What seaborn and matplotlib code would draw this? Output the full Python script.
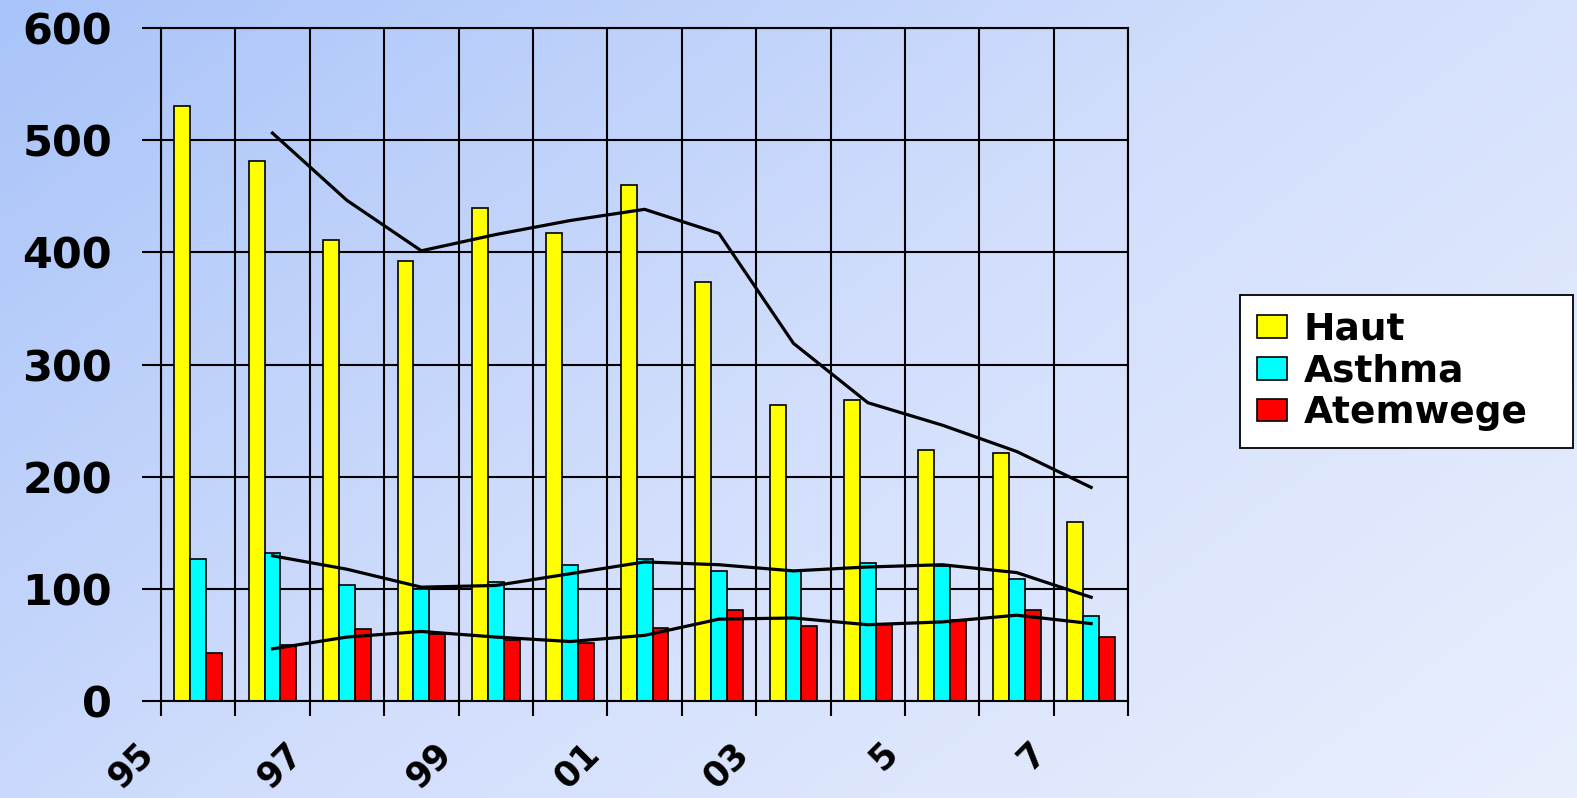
import numpy as np
import pandas as pd
import seaborn as sns
import matplotlib.pyplot as plt
import matplotlib.transforms as mtransforms
from matplotlib.colors import LinearSegmentedColormap

jahre = ['95', '96', '97', '98', '99', '00', '01', '02', '03', '04', '05', '06', '07']
tick_labels = ['95', '', '97', '', '99', '', '01', '', '03', '', '5', '', '7', '']
haut = [531, 482, 411, 392, 440, 417, 460, 374, 264, 268, 224, 221, 160]
asthma = [127, 132, 103, 100, 106, 121, 127, 116, 116, 123, 120, 109, 76]
atemwege = [43, 50, 64, 60, 54, 52, 65, 81, 67, 69, 72, 81, 57]
kategorien = ['Haut', 'Asthma', 'Atemwege']
farben = ['#ffff00', '#00ffff', '#ff0000']

df = pd.DataFrame({
    'Jahr': jahre * 3,
    'Wert': haut + asthma + atemwege,
    'Kategorie': np.repeat(kategorien, len(jahre)),
})

fig = plt.figure(figsize=(15.77, 7.98), dpi=100)

# background gradient
bg = fig.add_axes([0, 0, 1, 1])
gx, gy = np.meshgrid(np.linspace(0, 1, 300), np.linspace(0, 1, 150))
grad = (gx * 0.6 + gy * 0.4)
cmap = LinearSegmentedColormap.from_list('bg', ['#a9c4f9', '#d2defc', '#e9effd'])
bg.imshow(grad, cmap=cmap, aspect='auto', extent=[0, 1, 0, 1], origin='upper')
bg.axis('off')
bg.set_zorder(0)

ax = fig.add_axes([0.102, 0.1216, 0.6135, 0.843])
ax.set_zorder(1)
ax.patch.set_alpha(0)

sns.barplot(data=df, x='Jahr', y='Wert', hue='Kategorie', order=jahre,
            hue_order=kategorien, palette=farben, width=0.64, saturation=1,
            edgecolor='black', linewidth=1.2, ax=ax)

# 2-period moving average trendlines
for vals in [haut, asthma, atemwege]:
    ma = pd.Series(vals).rolling(2).mean()
    ax.plot(np.arange(len(jahre)), ma, color='black', lw=2.3, zorder=5)

ax.set_xlim(-0.5, len(jahre) - 0.5)
ax.set_ylim(0, 600)
ax.set_xlabel('')
ax.set_ylabel('')
ax.set_xticks(np.arange(-0.5, len(jahre), 1))
ax.set_xticklabels(tick_labels, rotation=45, ha='right', va='baseline',
                   rotation_mode='anchor', fontsize=25, fontweight='bold')
ax.set_yticks(range(0, 601, 100))
ax.set_yticklabels([str(v) for v in range(0, 601, 100)], fontsize=31, fontweight='bold')
ax.tick_params(axis='x', length=11, width=1.5, pad=28, color='black')
ax.tick_params(axis='y', length=14, width=1.5, pad=21, color='black')
shift = mtransforms.ScaledTranslation(-6 / 100, 0, fig.dpi_scale_trans)
for lab in ax.get_xticklabels():
    lab.set_transform(lab.get_transform() + shift)
ax.set_axisbelow(True)
ax.grid(True, color='black', lw=1.5)
for s in ax.spines.values():
    s.set_color('black')
    s.set_linewidth(1.5)

handles, labels = ax.get_legend_handles_labels()
ax.get_legend().remove()
leg = fig.legend(handles, labels, loc='upper left',
                 bbox_to_anchor=(0.7863, 0.4424, 0.2112, 0.1879), mode='expand',
                 borderaxespad=0, frameon=True, fancybox=False, edgecolor='black',
                 facecolor='white', framealpha=1, prop={'weight': 'bold', 'size': 27},
                 handlelength=0.8, handleheight=0.55, handletextpad=0.45,
                 labelspacing=0.15, borderpad=0.45)
leg.get_frame().set_linewidth(1.3)

fig.savefig('out.png', dpi=100)
